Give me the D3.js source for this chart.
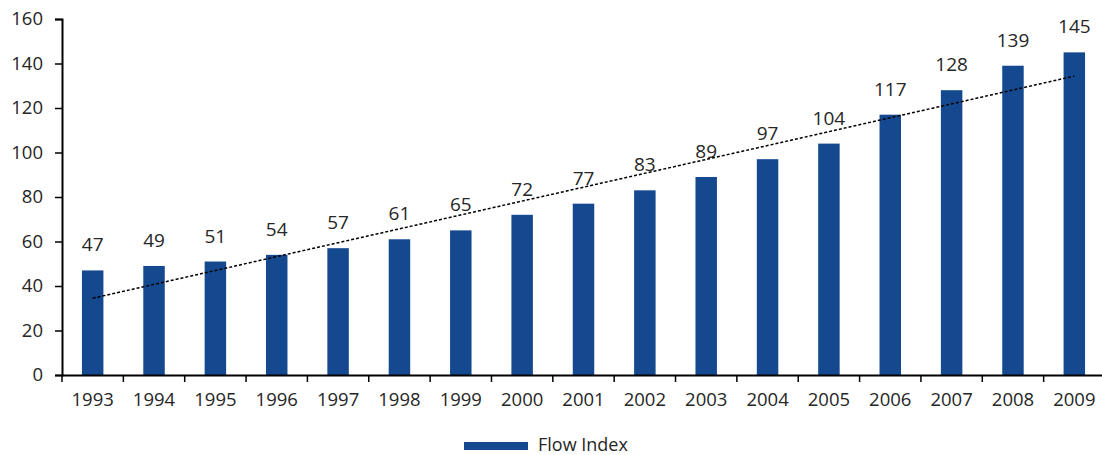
<!DOCTYPE html>
<html>
<head>
<meta charset="utf-8">
<script src="https://cdn.jsdelivr.net/npm/d3@7"></script>
<style>
  body { margin: 0; background: #fff; }
  text { font-family: "Open Sans", "Noto Sans", sans-serif; fill: #262626; }
</style>
</head>
<body>
<script>
const years = ['1993', '1994', '1995', '1996', '1997', '1998', '1999', '2000', '2001',
  '2002', '2003', '2004', '2005', '2006', '2007', '2008', '2009'];
const flowIndex = [47, 49, 51, 54, 57, 61, 65, 72, 77, 83, 89, 97, 104, 117, 128, 139, 145];
const yTicks = [0, 20, 40, 60, 80, 100, 120, 140, 160];
const seriesName = 'Flow Index';

const width = 1102;
const height = 455;
const margins = { top: 19, left: 62, bottom: 80, right: -3 };
const barColor = '#15498f';

const svg = d3.select('body')
  .append('svg')
  .attr('width', width)
  .attr('height', height);

const xScale = d3.scaleBand()
  .domain(years)
  .range([margins.left, width - margins.right])
  .paddingInner(0.65)
  .paddingOuter(0.325);

// band boundaries for the x ticks
const step = xScale.step();
const x0 = margins.left;

const yScale = d3.scaleLinear()
  .domain([0, 160])
  .range([height - margins.bottom, margins.top]);

// bars
svg.append('g')
  .selectAll('rect')
  .data(flowIndex)
  .enter()
  .append('rect')
  .attr('x', (d, i) => xScale(years[i]))
  .attr('y', d => yScale(d))
  .attr('width', xScale.bandwidth())
  .attr('height', d => yScale(0) - yScale(d))
  .attr('fill', barColor);

// value labels
svg.append('g')
  .selectAll('text')
  .data(flowIndex)
  .enter()
  .append('text')
  .attr('x', (d, i) => xScale(years[i]) + xScale.bandwidth() / 2)
  .attr('y', d => yScale(d) - 19)
  .attr('text-anchor', 'middle')
  .style('font-size', '19px')
  .text(d => d);

// linear trend (least squares)
const n = flowIndex.length;
const meanX = d3.mean(flowIndex, (d, i) => i);
const meanY = d3.mean(flowIndex);
const slope = d3.sum(flowIndex, (d, i) => (i - meanX) * (d - meanY)) /
  d3.sum(flowIndex, (d, i) => (i - meanX) * (i - meanX));
const intercept = meanY - slope * meanX;

const trendLine = d3.line()
  .x(d => xScale(years[d]) + xScale.bandwidth() / 2)
  .y(d => yScale(intercept + slope * d));

svg.append('path')
  .attr('d', trendLine([0, n - 1]))
  .attr('fill', 'none')
  .attr('stroke', '#000')
  .attr('stroke-width', 1.5)
  .attr('stroke-dasharray', '3,2');

// y axis
const yAxis = d3.axisLeft(yScale)
  .tickValues(yTicks)
  .tickSize(7)
  .tickPadding(12);
const yG = svg.append('g')
  .attr('transform', 'translate(' + margins.left + ',0)')
  .call(yAxis);
yG.select('.domain').attr('stroke', '#000').attr('stroke-width', 2);
yG.selectAll('.tick line').attr('stroke', '#000').attr('stroke-width', 1.5);
yG.selectAll('.tick text').style('font-size', '18.5px').attr('fill', '#262626');

// x axis
const xAxis = d3.axisBottom(xScale)
  .tickSize(0)
  .tickPadding(18);
const xG = svg.append('g')
  .attr('transform', 'translate(0,' + yScale(0) + ')')
  .call(xAxis);
xG.select('.domain').attr('stroke', '#000').attr('stroke-width', 2);
xG.selectAll('.tick text').style('font-size', '18.5px').attr('fill', '#262626');

// x ticks at category boundaries
xG.selectAll('line.boundary')
  .data(d3.range(years.length + 1))
  .enter()
  .append('line')
  .attr('class', 'boundary')
  .attr('x1', d => x0 + d * step)
  .attr('x2', d => x0 + d * step)
  .attr('y1', 0)
  .attr('y2', 7)
  .attr('stroke', '#000')
  .attr('stroke-width', 1.5);

// legend
const legend = svg.append('g')
  .attr('transform', 'translate(464,442)');
legend.append('rect')
  .attr('width', 64)
  .attr('height', 8)
  .attr('fill', barColor);
legend.append('text')
  .attr('x', 74)
  .attr('y', 9)
  .style('font-size', '18px')
  .text(seriesName);
</script>
</body>
</html>
